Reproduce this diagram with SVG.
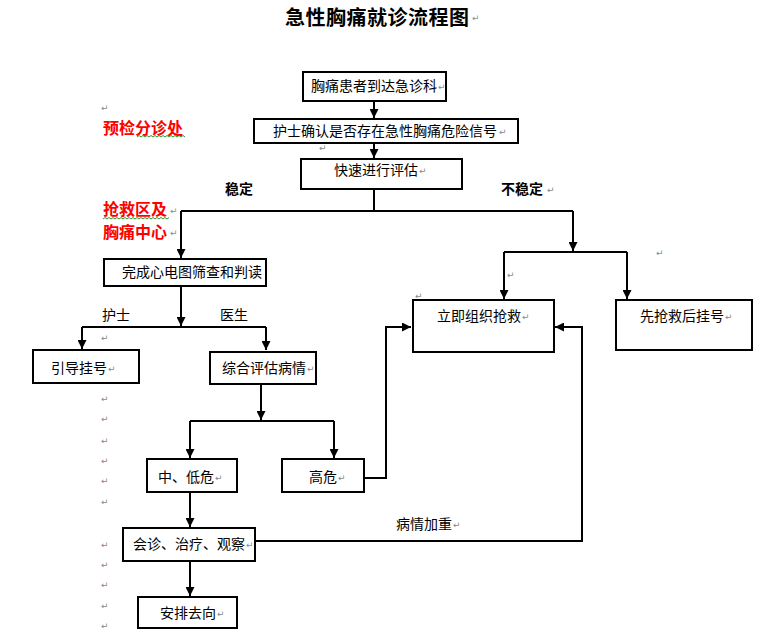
<svg xmlns="http://www.w3.org/2000/svg" width="766" height="636" viewBox="0 0 766 636">
<defs>
<style>
.box{fill:#fff;stroke:#000;stroke-width:2}
.t{font-family:"Noto Sans CJK SC","Liberation Sans",sans-serif;font-size:14px;fill:#000}
.b{font-weight:bold}
.red{font-family:"Noto Sans CJK SC","Liberation Serif",serif;font-size:16px;font-weight:bold;fill:#ff0000}
.pm{font-family:"DejaVu Sans",sans-serif;font-size:9px;fill:#8a8a8a}
.c{fill:none;stroke:#000;stroke-width:2}
.wave{fill:none;stroke:#2e9a2e;stroke-width:1}
</style>
<marker id="ah" viewBox="0 0 10 10" refX="10" refY="5" markerWidth="4.5" markerHeight="4.5" orient="auto" markerUnits="strokeWidth">
<path d="M0,0 L10,5 L0,10 z" fill="#000"/>
</marker>
</defs>
<rect width="766" height="636" fill="#fff"/>

<text x="285" y="25" class="t b" style="font-size:20px;letter-spacing:0.5px">急性胸痛就诊流程图</text>
<text x="472" y="21" class="pm">↵</text>

<g id="labels">
<text x="103" y="134" class="red">预检分诊处</text>
<path class="wave" d="M137,137 l2,-1.5 l2,1.5 l2,-1.5 l2,1.5 l2,-1.5 l2,1.5 l2,-1.5 l2,1.5 l2,-1.5 l2,1.5 l2,-1.5 l2,1.5 l2,-1.5 l2,1.5 l2,-1.5 l2,1.5 l2,-1.5 l2,1.5 l2,-1.5 l2,1.5 l2,-1.5 l2,1.5 l2,-1.5 l2,1.5"/>
<text x="103" y="215" class="red">抢救区及</text>
<path class="wave" d="M103,219 l2,-1.5 l2,1.5 l2,-1.5 l2,1.5 l2,-1.5 l2,1.5 l2,-1.5 l2,1.5 l2,-1.5 l2,1.5 l2,-1.5 l2,1.5 l2,-1.5 l2,1.5 l2,-1.5 l2,1.5 l2,-1.5 l2,1.5 l2,-1.5 l2,1.5 l2,-1.5 l2,1.5 l2,-1.5 l2,1.5 l2,-1.5 l2,1.5 l2,-1.5 l2,1.5 l2,-1.5 l2,1.5 l2,-1.5 l2,1.5 l2,-1.5"/>
<text x="170" y="214" class="pm">↵</text>
<text x="103" y="238" class="red">胸痛中心</text>
<text x="170" y="236" class="pm">↵</text>
<text x="225" y="194" class="t b">稳定</text>
<text x="501" y="194" class="t b">不稳定</text>
<text x="547" y="193" class="pm">↵</text>
<text x="102" y="320" class="t">护士</text>
<text x="220" y="320" class="t">医生</text>
<text x="396" y="529" class="t">病情加重</text>
<text x="453" y="528" class="pm">↵</text>
</g>

<g id="para-marks" class="pm">
<text x="101" y="111">↵</text>
<text x="319" y="151">↵</text>
<text x="101" y="341">↵</text>
<text x="101" y="402">↵</text>
<text x="101" y="422">↵</text>
<text x="101" y="444">↵</text>
<text x="101" y="464">↵</text>
<text x="101" y="484">↵</text>
<text x="101" y="505">↵</text>
<text x="101" y="548">↵</text>
<text x="101" y="568">↵</text>
<text x="101" y="588">↵</text>
<text x="101" y="609">↵</text>
<text x="101" y="629">↵</text>
<text x="656" y="256">↵</text>
<text x="507" y="278">↵</text>
<text x="415" y="299">↵</text>
</g>

<g id="connectors">
<path class="c" d="M374,101 V118" marker-end="url(#ah)"/>
<path class="c" d="M374,143 V158" marker-end="url(#ah)"/>
<path class="c" d="M374,189 V211"/>
<path class="c" d="M181,211 H573"/>
<path class="c" d="M181,211 V258" marker-end="url(#ah)"/>
<path class="c" d="M573,211 V251" marker-end="url(#ah)"/>
<path class="c" d="M504,252 H627"/>
<path class="c" d="M504,252 V299" marker-end="url(#ah)"/>
<path class="c" d="M627,252 V299" marker-end="url(#ah)"/>
<path class="c" d="M181,286 V326" marker-end="url(#ah)"/>
<path class="c" d="M82,327 H266"/>
<path class="c" d="M82,327 V349" marker-end="url(#ah)"/>
<path class="c" d="M266,327 V350" marker-end="url(#ah)"/>
<path class="c" d="M261,384 V420" marker-end="url(#ah)"/>
<path class="c" d="M190,421 H334"/>
<path class="c" d="M190,421 V458" marker-end="url(#ah)"/>
<path class="c" d="M334,421 V458" marker-end="url(#ah)"/>
<path class="c" d="M364,478 H386 V327 H411" marker-end="url(#ah)"/>
<path class="c" d="M190,492 V527" marker-end="url(#ah)"/>
<path class="c" d="M255,541 H582 V327 H555" marker-end="url(#ah)"/>
<path class="c" d="M190,561 V596" marker-end="url(#ah)"/>
</g>

<g id="n1"><rect class="box" x="303" y="72" width="143" height="29"/><text x="311" y="91" class="t">胸痛患者到达急诊科</text><text x="438" y="90" class="pm">↵</text></g>
<g id="n2"><rect class="box" x="254" y="119" width="264" height="24"/><text x="273" y="136" class="t">护士确认是否存在急性胸痛危险信号</text><text x="499" y="135" class="pm">↵</text></g>
<g id="n3"><rect class="box" x="301" y="159" width="161" height="30"/><text x="334" y="175" class="t">快速进行评估</text><text x="419" y="174" class="pm">↵</text></g>
<g id="n4"><rect class="box" x="104" y="259" width="162" height="27"/><text x="122" y="277" class="t">完成心电图筛查和判读</text></g>
<g id="n5"><rect class="box" x="413" y="300" width="141" height="52"/><text x="437" y="321" class="t">立即组织抢救</text><text x="522" y="320" class="pm">↵</text></g>
<g id="n6"><rect class="box" x="616" y="300" width="136" height="50"/><text x="640" y="321" class="t">先抢救后挂号</text><text x="725" y="320" class="pm">↵</text></g>
<g id="n7"><rect class="box" x="33" y="350" width="106" height="33"/><text x="51" y="373" class="t">引导挂号</text><text x="108" y="372" class="pm">↵</text></g>
<g id="n8"><rect class="box" x="210" y="352" width="106" height="32"/><text x="222" y="373" class="t">综合评估病情</text><text x="307" y="372" class="pm">↵</text></g>
<g id="n9"><rect class="box" x="147" y="459" width="90" height="33"/><text x="158" y="482" class="t">中、低危</text><text x="215" y="481" class="pm">↵</text></g>
<g id="n10"><rect class="box" x="282" y="459" width="82" height="33"/><text x="309" y="482" class="t">高危</text><text x="338" y="481" class="pm">↵</text></g>
<g id="n11"><rect class="box" x="123" y="528" width="132" height="33"/><text x="133" y="549" class="t">会诊、治疗、观察</text><text x="246" y="548" class="pm">↵</text></g>
<g id="n12"><rect class="box" x="138" y="597" width="99" height="31"/><text x="160" y="618" class="t">安排去向</text><text x="217" y="617" class="pm">↵</text></g>
</svg>
